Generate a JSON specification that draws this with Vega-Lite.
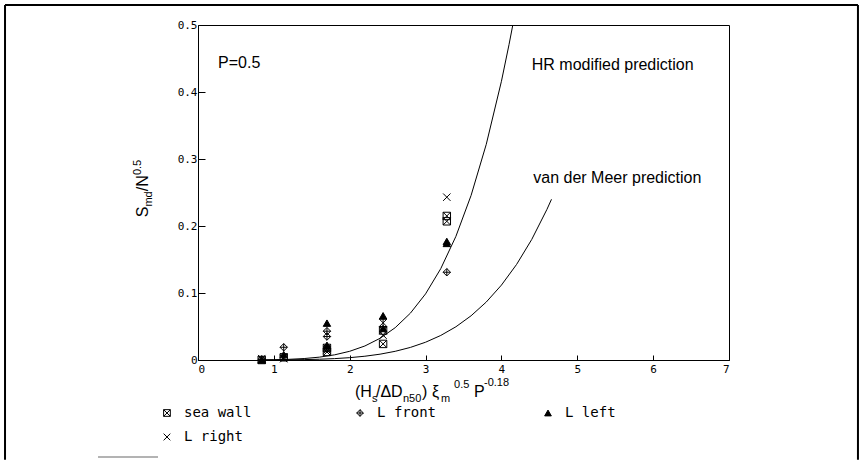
{
  "$schema": "https://vega.github.io/schema/vega-lite/v6.json",
  "width": 531,
  "height": 335,
  "autosize": {"type": "none"},
  "padding": {"left": 198, "top": 25, "right": 136, "bottom": 100},
  "background": "white",
  "config": {
    "view": {"stroke": "black", "strokeWidth": 1},
    "axis": {
      "domainColor": "black",
      "tickColor": "black",
      "labelColor": "black",
      "labelFont": "DejaVu Sans Mono",
      "labelFontSize": 11,
      "grid": false,
      "title": null
    }
  },
  "datasets": {
    "frame": [
      {"part": "border", "x": -2.544, "y": 0.5299, "x2": 8.70, "y2": 0.5299},
      {"part": "border", "x": -2.544, "y": 0.5299, "x2": -2.544, "y2": -0.149},
      {"part": "border", "x": 8.70, "y": 0.5299, "x2": 8.70, "y2": -0.149},
      {"part": "stub", "x": -1.318, "y": -0.1448, "x2": -0.527, "y2": -0.1448}
    ],
    "curves": [
      {"model": "HR modified", "x": 0.8, "y": 0.000133},
      {"model": "HR modified", "x": 1.0, "y": 0.000406},
      {"model": "HR modified", "x": 1.2, "y": 0.001011},
      {"model": "HR modified", "x": 1.4, "y": 0.002185},
      {"model": "HR modified", "x": 1.6, "y": 0.00426},
      {"model": "HR modified", "x": 1.8, "y": 0.007676},
      {"model": "HR modified", "x": 2.0, "y": 0.012999},
      {"model": "HR modified", "x": 2.2, "y": 0.020936},
      {"model": "HR modified", "x": 2.4, "y": 0.032347},
      {"model": "HR modified", "x": 2.6, "y": 0.048268},
      {"model": "HR modified", "x": 2.8, "y": 0.069913},
      {"model": "HR modified", "x": 3.0, "y": 0.098716},
      {"model": "HR modified", "x": 3.2, "y": 0.136307},
      {"model": "HR modified", "x": 3.4, "y": 0.184578},
      {"model": "HR modified", "x": 3.6, "y": 0.24563},
      {"model": "HR modified", "x": 3.8, "y": 0.321884},
      {"model": "HR modified", "x": 4.0, "y": 0.415977},
      {"model": "HR modified", "x": 4.1, "y": 0.470647},
      {"model": "HR modified", "x": 4.15, "y": 0.5},
      {"model": "van der Meer", "x": 0.8, "y": 0.0000358},
      {"model": "van der Meer", "x": 1.0, "y": 0.000109},
      {"model": "van der Meer", "x": 1.2, "y": 0.000272},
      {"model": "van der Meer", "x": 1.4, "y": 0.000587},
      {"model": "van der Meer", "x": 1.6, "y": 0.001145},
      {"model": "van der Meer", "x": 1.8, "y": 0.002063},
      {"model": "van der Meer", "x": 2.0, "y": 0.003493},
      {"model": "van der Meer", "x": 2.2, "y": 0.005626},
      {"model": "van der Meer", "x": 2.4, "y": 0.008692},
      {"model": "van der Meer", "x": 2.6, "y": 0.012969},
      {"model": "van der Meer", "x": 2.8, "y": 0.018786},
      {"model": "van der Meer", "x": 3.0, "y": 0.026524},
      {"model": "van der Meer", "x": 3.2, "y": 0.036626},
      {"model": "van der Meer", "x": 3.4, "y": 0.049594},
      {"model": "van der Meer", "x": 3.6, "y": 0.066001},
      {"model": "van der Meer", "x": 3.8, "y": 0.086488},
      {"model": "van der Meer", "x": 4.0, "y": 0.111774},
      {"model": "van der Meer", "x": 4.2, "y": 0.142655},
      {"model": "van der Meer", "x": 4.4, "y": 0.180013},
      {"model": "van der Meer", "x": 4.6, "y": 0.224818},
      {"model": "van der Meer", "x": 4.66, "y": 0.23987}
    ],
    "tests": [
      {"series": "sea wall", "x": 0.84, "y": 0.0},
      {"series": "sea wall", "x": 1.13, "y": 0.004},
      {"series": "sea wall", "x": 1.70, "y": 0.012},
      {"series": "sea wall", "x": 1.70, "y": 0.018},
      {"series": "sea wall", "x": 2.44, "y": 0.044},
      {"series": "sea wall", "x": 2.44, "y": 0.024},
      {"series": "sea wall", "x": 3.28, "y": 0.215},
      {"series": "sea wall", "x": 3.28, "y": 0.207},
      {"series": "L front", "x": 0.84, "y": 0.001},
      {"series": "L front", "x": 1.13, "y": 0.019},
      {"series": "L front", "x": 1.70, "y": 0.035},
      {"series": "L front", "x": 1.70, "y": 0.043},
      {"series": "L front", "x": 2.44, "y": 0.061},
      {"series": "L front", "x": 2.44, "y": 0.05},
      {"series": "L front", "x": 3.28, "y": 0.131},
      {"series": "L left", "x": 0.84, "y": 0.0},
      {"series": "L left", "x": 1.13, "y": 0.008},
      {"series": "L left", "x": 1.70, "y": 0.055},
      {"series": "L left", "x": 1.70, "y": 0.022},
      {"series": "L left", "x": 2.44, "y": 0.066},
      {"series": "L left", "x": 2.44, "y": 0.047},
      {"series": "L left", "x": 3.28, "y": 0.177},
      {"series": "L left", "x": 3.28, "y": 0.174},
      {"series": "L right", "x": 0.84, "y": 0.002},
      {"series": "L right", "x": 1.13, "y": 0.002},
      {"series": "L right", "x": 1.70, "y": 0.015},
      {"series": "L right", "x": 2.44, "y": 0.037},
      {"series": "L right", "x": 3.28, "y": 0.243}
    ],
    "keys": [
      {"series": "sea wall", "x": -0.409, "y": -0.0791},
      {"series": "L front", "x": 2.136, "y": -0.0791},
      {"series": "L left", "x": 4.614, "y": -0.0791},
      {"series": "L right", "x": -0.409, "y": -0.1149}
    ],
    "notes": [
      {"label": "P=0.5", "x": 0.264, "y": 0.443},
      {"label": "HR modified prediction", "x": 4.40, "y": 0.440},
      {"label": "van der Meer prediction", "x": 4.42, "y": 0.2716}
    ],
    "xTitleMain": [
      {"t": "(H", "x": 2.070, "y": -0.0552},
      {"t": "/ΔD", "x": 2.346, "y": -0.0552},
      {"t": ")", "x": 2.953, "y": -0.0552},
      {"t": "ξ", "x": 3.085, "y": -0.0552},
      {"t": "P", "x": 3.638, "y": -0.0552}
    ],
    "xTitleSmall": [
      {"t": "s", "x": 2.294, "y": -0.0627},
      {"t": "n50", "x": 2.702, "y": -0.0627},
      {"t": "m", "x": 3.203, "y": -0.0627},
      {"t": "0.5", "x": 3.375, "y": -0.0418},
      {"t": "-0.18", "x": 3.770, "y": -0.0388}
    ],
    "yTitleMain": [
      {"t": "S", "x": -0.66, "y": 0.213},
      {"t": "/N", "x": -0.66, "y": 0.252}
    ],
    "yTitleSmall": [
      {"t": "md", "x": -0.60, "y": 0.229},
      {"t": "0.5", "x": -0.745, "y": 0.276}
    ]
  },
  "layer": [
    {
      "data": {"name": "frame"},
      "mark": {"type": "rule"},
      "encoding": {
        "x": {"field": "x", "type": "quantitative", "scale": {"domain": [0, 7], "nice": false, "zero": false}},
        "y": {"field": "y", "type": "quantitative", "scale": {"domain": [0, 0.5], "nice": false, "zero": false}},
        "x2": {"field": "x2"},
        "y2": {"field": "y2"},
        "color": {"field": "part", "type": "nominal", "scale": {"domain": ["border", "stub"], "range": ["black", "#9a9a9a"]}, "legend": null},
        "strokeWidth": {"field": "part", "type": "nominal", "scale": {"domain": ["border", "stub"], "range": [2, 1.5]}, "legend": null}
      }
    },
    {
      "data": {"name": "curves"},
      "mark": {"type": "line", "color": "black", "strokeWidth": 1, "clip": true},
      "encoding": {
        "x": {
          "field": "x", "type": "quantitative",
          "axis": {"values": [0, 1, 2, 3, 4, 5, 6, 7], "format": "d", "tickSize": -5, "labelPadding": 8}
        },
        "y": {
          "field": "y", "type": "quantitative",
          "axis": {"values": [0, 0.1, 0.2, 0.3, 0.4, 0.5], "format": "~g", "tickSize": -7, "labelPadding": 8}
        },
        "detail": {"field": "model", "type": "nominal"}
      }
    },
    {
      "data": {"name": "tests"},
      "mark": {"type": "point", "stroke": "black", "strokeWidth": 1, "opacity": 1},
      "encoding": {
        "x": {"field": "x", "type": "quantitative"},
        "y": {"field": "y", "type": "quantitative"},
        "shape": {
          "field": "series", "type": "nominal",
          "scale": {
            "domain": ["sea wall", "L front", "L left", "L right"],
            "range": [
              "M-1,-1L1,-1L1,1L-1,1Z M-1,-1L1,1 M1,-1L-1,1",
              "M0,-1L1,0L0,1L-1,0Z M0,-1L0,1 M-1,0L1,0",
              "triangle-up",
              "M-1,-1L1,1 M1,-1L-1,1"
            ]
          },
          "legend": null
        },
        "fill": {
          "field": "series", "type": "nominal",
          "scale": {
            "domain": ["sea wall", "L front", "L left", "L right"],
            "range": ["transparent", "transparent", "black", "transparent"]
          },
          "legend": null
        },
        "size": {"value": 55}
      }
    },
    {
      "data": {"name": "keys"},
      "mark": {"type": "point", "stroke": "black", "strokeWidth": 1, "opacity": 1},
      "encoding": {
        "x": {"field": "x", "type": "quantitative"},
        "y": {"field": "y", "type": "quantitative"},
        "shape": {"field": "series", "type": "nominal", "legend": null},
        "fill": {"field": "series", "type": "nominal", "legend": null},
        "size": {"value": 45}
      }
    },
    {
      "data": {"name": "keys"},
      "mark": {"type": "text", "align": "left", "baseline": "middle", "dx": 17, "font": "DejaVu Sans Mono", "fontSize": 14, "color": "black"},
      "encoding": {
        "x": {"field": "x", "type": "quantitative"},
        "y": {"field": "y", "type": "quantitative"},
        "text": {"field": "series"}
      }
    },
    {
      "data": {"name": "notes"},
      "mark": {"type": "text", "align": "left", "baseline": "middle", "font": "Liberation Sans", "fontSize": 16, "color": "black"},
      "encoding": {
        "x": {"field": "x", "type": "quantitative"},
        "y": {"field": "y", "type": "quantitative"},
        "text": {"field": "label"}
      }
    },
    {
      "data": {"name": "xTitleMain"},
      "mark": {"type": "text", "align": "left", "baseline": "alphabetic", "font": "Liberation Sans", "fontSize": 16, "color": "black"},
      "encoding": {
        "x": {"field": "x", "type": "quantitative"},
        "y": {"field": "y", "type": "quantitative"},
        "text": {"field": "t"}
      }
    },
    {
      "data": {"name": "xTitleSmall"},
      "mark": {"type": "text", "align": "left", "baseline": "alphabetic", "font": "Liberation Sans", "fontSize": 11, "color": "black"},
      "encoding": {
        "x": {"field": "x", "type": "quantitative"},
        "y": {"field": "y", "type": "quantitative"},
        "text": {"field": "t"}
      }
    },
    {
      "data": {"name": "yTitleMain"},
      "mark": {"type": "text", "align": "left", "baseline": "alphabetic", "angle": 270, "font": "Liberation Sans", "fontSize": 16, "color": "black"},
      "encoding": {
        "x": {"field": "x", "type": "quantitative"},
        "y": {"field": "y", "type": "quantitative"},
        "text": {"field": "t"}
      }
    },
    {
      "data": {"name": "yTitleSmall"},
      "mark": {"type": "text", "align": "left", "baseline": "alphabetic", "angle": 270, "font": "Liberation Sans", "fontSize": 11, "color": "black"},
      "encoding": {
        "x": {"field": "x", "type": "quantitative"},
        "y": {"field": "y", "type": "quantitative"},
        "text": {"field": "t"}
      }
    }
  ]
}
